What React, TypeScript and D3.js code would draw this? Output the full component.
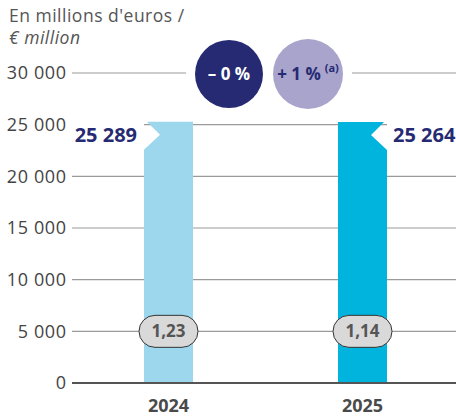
import React from "react";
import * as d3 from "d3";

const years = ["2024", "2025"];
const values = [25289, 25264];
const valueLabels = ["25 289", "25 264"];
const ratioLabels = ["1,23", "1,14"];
const barColors = ["#9dd7ee", "#00b4de"];
const ticks = [0, 5000, 10000, 15000, 20000, 25000, 30000];
const tickLabels = ["0", "5 000", "10 000", "15 000", "20 000", "25 000", "30 000"];
const badges = ["– 0 %", "+ 1 %"];
const ratioLevel = 5000;

const W = 456;
const H = 418;
const FONT = "'Open Sans', Lato, sans-serif";

export default function App() {
  const y = d3.scaleLinear().domain([0, 30000]).range([383, 73]);
  const x = d3.scalePoint<string>().domain(years).range([168.5, 362.5]);
  const bw = 49;
  const gridX0 = 72;
  const gridX1 = 456;

  const barPath = (i: number) => {
    const cx = x(years[i])!;
    const x0 = cx - bw / 2;
    const x1 = cx + bw / 2;
    const top = y(values[i]);
    const b = y(0);
    const p = d3.path();
    if (i === 0) {
      p.moveTo(x0 + 3, top);
      p.lineTo(x1, top);
      p.lineTo(x1, b);
      p.lineTo(x0, b);
      p.lineTo(x0, top + 28);
      p.lineTo(x0 + 16, top + 13);
    } else {
      p.moveTo(x0, top);
      p.lineTo(x1 - 3, top);
      p.lineTo(x1 - 16, top + 13);
      p.lineTo(x1, top + 28);
      p.lineTo(x1, b);
      p.lineTo(x0, b);
    }
    p.closePath();
    return p.toString();
  };

  const cy = y(30000) + 1;
  const c1x = 229;
  const c2x = 308;

  return (
    <svg width={W} height={H} style={{ position: "absolute", left: 0, top: 0 }} fontFamily={FONT}>
      <rect x={0} y={0} width={W} height={H} fill="#fff" />
      {/* title */}
      <text x={9} y={22} fontSize={17.5} letterSpacing={0.5} fill="#555">En millions d'euros /</text>
      <text x={9} y={44} fontSize={17.5} letterSpacing={0.5} fill="#555" fontStyle="italic">€ million</text>

      {/* gridlines */}
      {ticks.map((t, i) => (
        <g key={t}>
          {t !== 0 && (
            <line x1={gridX0} x2={gridX1} y1={y(t)} y2={y(t)} stroke="#9a9a9a" strokeWidth={1.2} />
          )}
          <text x={66.6} y={y(t)} dy="0.36em" textAnchor="end" fontSize={18} letterSpacing={0.6} fill="#444">
            {tickLabels[i]}
          </text>
        </g>
      ))}

      {/* badge circles masking gridline */}
      <circle cx={c1x} cy={cy} r={43} fill="#fff" />
      <circle cx={c2x} cy={cy} r={44} fill="#fff" />
      <circle cx={c1x} cy={cy} r={34} fill="#262a72" />
      <circle cx={c2x} cy={cy} r={35} fill="#a8a4cc" />
      <text x={c1x} y={cy + 6} textAnchor="middle" fontSize={17} fontWeight="bold" fill="#fff">
        {badges[0]}
      </text>
      <text x={c2x} y={cy + 6} textAnchor="middle" fontSize={17} fontWeight="bold" fill="#262a72">
        {badges[1]}
        <tspan fontSize={11} dx={4} dy={-8}>(a)</tspan>
      </text>

      {/* value label backgrounds */}
      <rect x={gridX0 - 2} y={y(values[0]) - 4} width={x(years[0])! - bw / 2 - gridX0 + 2} height={30} fill="#fff" />
      <rect x={x(years[1])! + bw / 2} y={y(values[1]) - 4} width={gridX1 - x(years[1])! - bw / 2} height={30} fill="#fff" />

      {/* bars */}
      {years.map((yr, i) => (
        <path key={yr} d={barPath(i)} fill={barColors[i]} />
      ))}

      {/* value labels */}
      <text x={x(years[0])! - bw / 2 - 7} y={142} textAnchor="end" fontSize={20} fontWeight="bold" fill="#262a72">
        {valueLabels[0]}
      </text>
      <text x={x(years[1])! + bw / 2 + 6} y={142} textAnchor="start" fontSize={20} fontWeight="bold" fill="#262a72">
        {valueLabels[1]}
      </text>

      {/* baseline */}
      <line x1={gridX0} x2={gridX1} y1={y(0)} y2={y(0)} stroke="#555" strokeWidth={2} />

      {/* ratio pills */}
      {years.map((yr, i) => (
        <g key={"p" + yr}>
          <rect
            x={x(yr)! - 29.5}
            y={y(ratioLevel) - 16}
            width={59}
            height={32}
            rx={16}
            fill="#d9d9d9"
            stroke="#333"
            strokeWidth={1}
          />
          <text x={x(yr)!} y={y(ratioLevel)} dy="0.36em" textAnchor="middle" fontSize={17} fontWeight="bold" fill="#555">
            {ratioLabels[i]}
          </text>
        </g>
      ))}

      {/* x labels */}
      {years.map((yr) => (
        <text key={"x" + yr} x={x(yr)!} y={412} textAnchor="middle" fontSize={18} fontWeight="bold" fill="#4a4a4a">
          {yr}
        </text>
      ))}
    </svg>
  );
}
